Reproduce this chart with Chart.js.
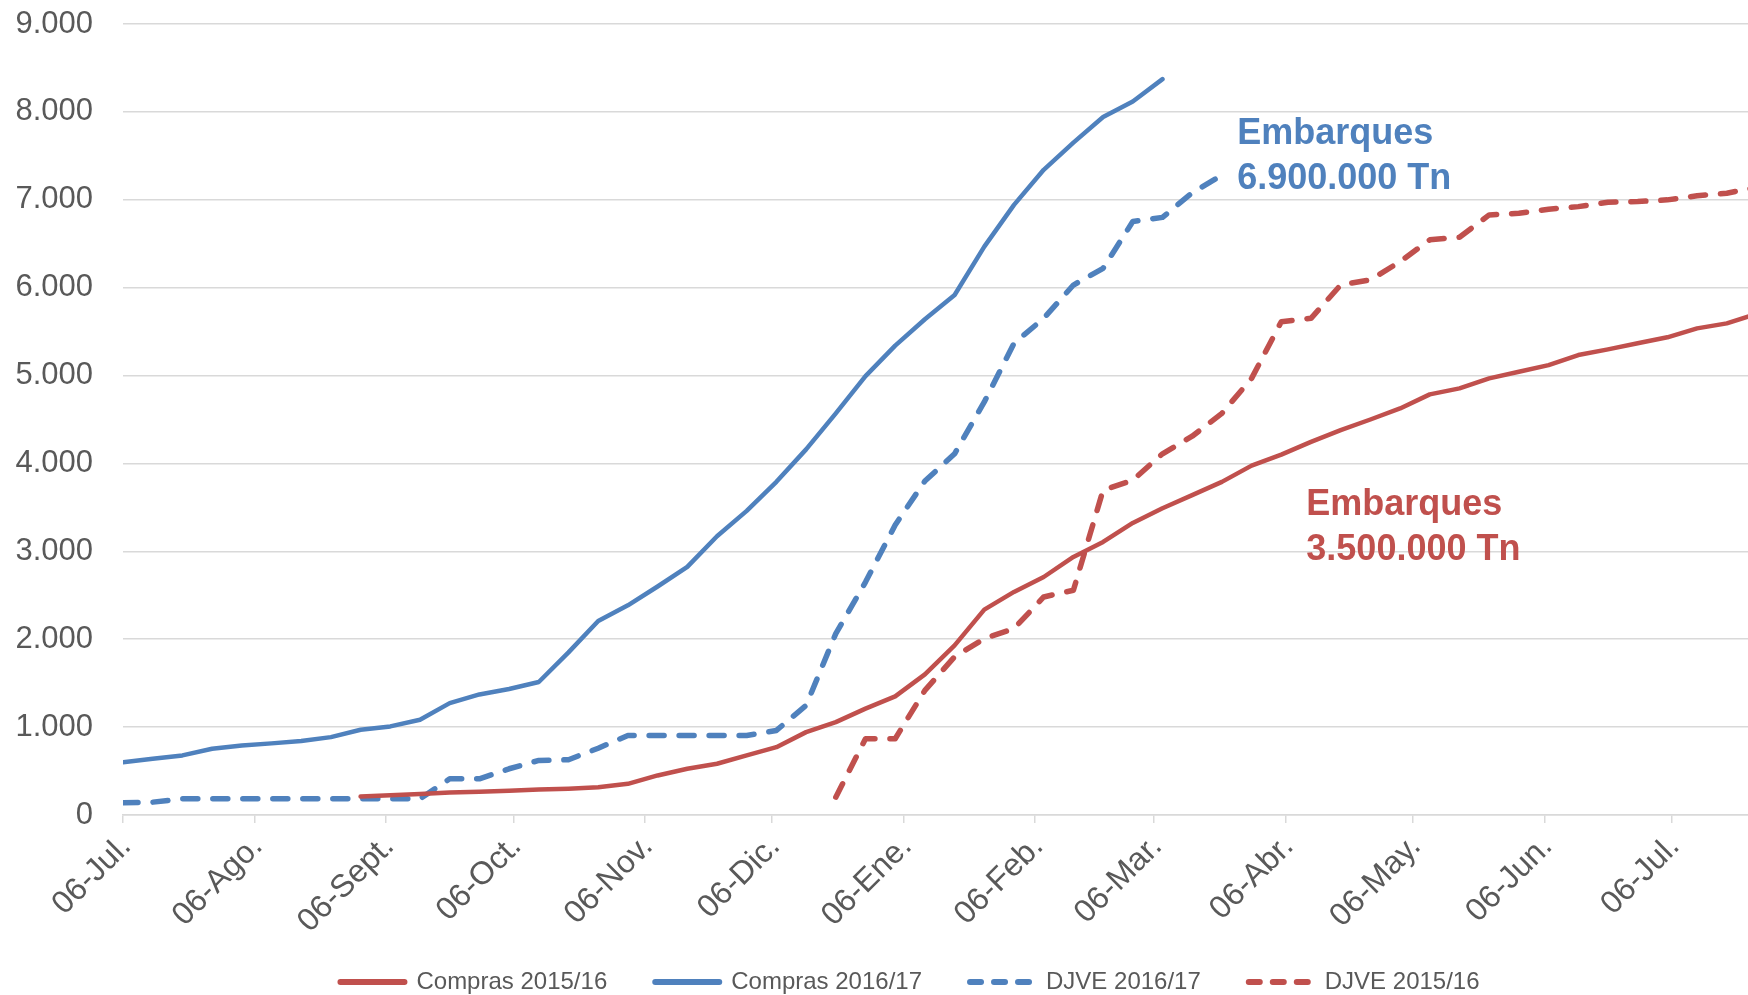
<!DOCTYPE html>
<html>
<head>
<meta charset="utf-8">
<title>Compras y DJVE</title>
<script src="https://cdn.jsdelivr.net/npm/chart.js@4"></script>
<style>
  html, body { margin: 0; padding: 0; background: #fff; }
</style>
</head>
<body>
<canvas id="chart" width="1748" height="995"></canvas>
<script>
// x = days counted from 06-Jul.; one value per week
const tickDays   = [0, 31, 62, 92, 123, 153, 184, 215, 243, 274, 304, 335, 365];
const tickLabels = ['06-Jul.', '06-Ago.', '06-Sept.', '06-Oct.', '06-Nov.', '06-Dic.', '06-Ene.',
                    '06-Feb.', '06-Mar.', '06-Abr.', '06-May.', '06-Jun.', '06-Jul.'];

const weekStep = 7;

const compras1516Start = 56;
const compras1516 = [210, 225, 240, 255, 265, 275, 290, 300, 317, 355, 450, 526, 583, 678, 772, 943,
  1057, 1210, 1350, 1600, 1930, 2337, 2538, 2708, 2936, 3107, 3323, 3490, 3640, 3790, 3975, 4100,
  4246, 4380, 4500, 4626, 4786, 4854, 4968, 5043, 5119, 5233, 5298, 5367, 5435, 5537, 5594, 5700];

const compras1617Start = 0;
const compras1617 = [600, 639, 678, 754, 792, 815, 841, 886, 970, 1008, 1084, 1273, 1372, 1433, 1513,
  1850, 2207, 2386, 2600, 2823, 3172, 3460, 3791, 4160, 4570, 4994, 5340, 5640, 5917, 6467, 6942,
  7341, 7650, 7941, 8119, 8373];

const djve1617Start = 0;
const djve1617 = [139, 146, 184, 184, 184, 184, 184, 184, 184, 184, 184, 412, 412, 526, 621, 629, 760,
  905, 905, 905, 905, 905, 962, 1247, 2064, 2650, 3300, 3800, 4110, 4700, 5367, 5651, 6030, 6220,
  6752, 6800, 7080, 7280];

const djve1516Start = 168;
const djve1516 = [203, 868, 868, 1418, 1800, 2007, 2121, 2481, 2557, 3696, 3810, 4110, 4310, 4570,
  4968, 5613, 5651, 6031, 6088, 6296, 6544, 6574, 6828, 6847, 6892, 6922, 6972, 6980, 6999, 7045,
  7075, 7140];

const BLUE = '#4F81BD';
const RED = '#C0504D';
const TEXT = '#595959';
const GRID = '#d9d9d9';

const notes = [
  { lines: ['Embarques', '6.900.000 Tn'], color: BLUE, day: 262.6, value: 7633 },
  { lines: ['Embarques', '3.500.000 Tn'], color: RED, day: 278.9, value: 3411 }
];

const toPoints = (start, values) => values.map((v, i) => ({ x: start + i * weekStep, y: v }));
const fmt = v => String(v).replace(/\B(?=(\d{3})+(?!\d))/g, '.');

Chart.defaults.font.family = '"Liberation Sans", Arial, sans-serif';

// "Embarques" text boxes
const notesPlugin = {
  id: 'notes',
  afterDatasetsDraw(chart) {
    const { ctx, scales: { x, y } } = chart;
    notes.forEach(n => {
      const px = x.getPixelForValue(n.day);
      const py = y.getPixelForValue(n.value);
      ctx.save();
      ctx.fillStyle = n.color;
      ctx.font = 'bold 36px "Liberation Sans", Arial, sans-serif';
      ctx.textBaseline = 'alphabetic';
      n.lines.forEach((t, i) => ctx.fillText(t, px, py + i * 44.5));
      ctx.restore();
    });
  }
};

// legend sits a bit right of the canvas centre in the original
const legendShift = {
  id: 'legendShift',
  afterLayout(chart) {
    const lg = chart.legend;
    lg.left += 36; lg.right += 36;
    lg.top -= 8; lg.bottom -= 8;
  }
};

const ctx = document.getElementById('chart').getContext('2d');

new Chart(ctx, {
  type: 'line',
  data: {
    datasets: [
      { label: 'Compras 2015/16', data: toPoints(compras1516Start, compras1516), borderColor: RED, backgroundColor: RED, borderWidth: 4.5 },
      { label: 'Compras 2016/17', data: toPoints(compras1617Start, compras1617), borderColor: BLUE, backgroundColor: BLUE, borderWidth: 4.5 },
      { label: 'DJVE 2016/17', data: toPoints(djve1617Start, djve1617), borderColor: BLUE, backgroundColor: BLUE, borderWidth: 5.5, borderDash: [15, 15] },
      { label: 'DJVE 2015/16', data: toPoints(djve1516Start, djve1516), borderColor: RED, backgroundColor: RED, borderWidth: 5.5, borderDash: [15, 15] }
    ]
  },
  options: {
    responsive: false,
    animation: false,
    devicePixelRatio: 1,
    layout: { padding: { top: 24, left: 0, right: 0, bottom: -17 } },
    elements: {
      point: { radius: 0 },
      line: { tension: 0, fill: false, borderCapStyle: 'round', borderJoinStyle: 'round' }
    },
    scales: {
      x: {
        type: 'linear',
        min: 0,
        max: 383,
        afterBuildTicks: s => { s.ticks = tickDays.map(v => ({ value: v })); },
        afterFit: s => { s.height = 115; s.paddingLeft = 0; s.paddingRight = 0; },
        grid: { drawOnChartArea: false, drawTicks: true, tickLength: 8, color: GRID, lineWidth: 1.5 },
        border: { display: true, color: GRID, width: 1.5 },
        ticks: {
          autoSkip: false,
          minRotation: 45,
          maxRotation: 45,
          padding: 5,
          labelOffset: 3,
          color: TEXT,
          font: { size: 32 },
          callback: (v, i) => tickLabels[i]
        }
      },
      y: {
        min: 0,
        max: 9000,
        afterFit: s => { s.width = 123; s.paddingTop = 0; s.paddingBottom = 0; },
        grid: { color: GRID, lineWidth: 1.5, drawTicks: false },
        border: { display: false },
        ticks: { stepSize: 1000, padding: 30, color: TEXT, font: { size: 31 }, callback: v => fmt(v) }
      }
    },
    plugins: {
      tooltip: { enabled: false },
      legend: {
        position: 'bottom',
        labels: {
          usePointStyle: true,
          pointStyle: 'line',
          pointStyleWidth: 64,
          padding: 48,
          color: TEXT,
          font: { size: 24 },
          generateLabels(chart) {
            const items = Chart.defaults.plugins.legend.labels.generateLabels(chart);
            items.forEach(it => {
              const ds = chart.data.datasets[it.datasetIndex];
              it.lineWidth = 6;
              it.lineCap = 'round';
              it.lineDash = ds.borderDash ? [11, 13] : [];
            });
            return items;
          }
        }
      }
    }
  },
  plugins: [notesPlugin, legendShift]
});
</script>
</body>
</html>
